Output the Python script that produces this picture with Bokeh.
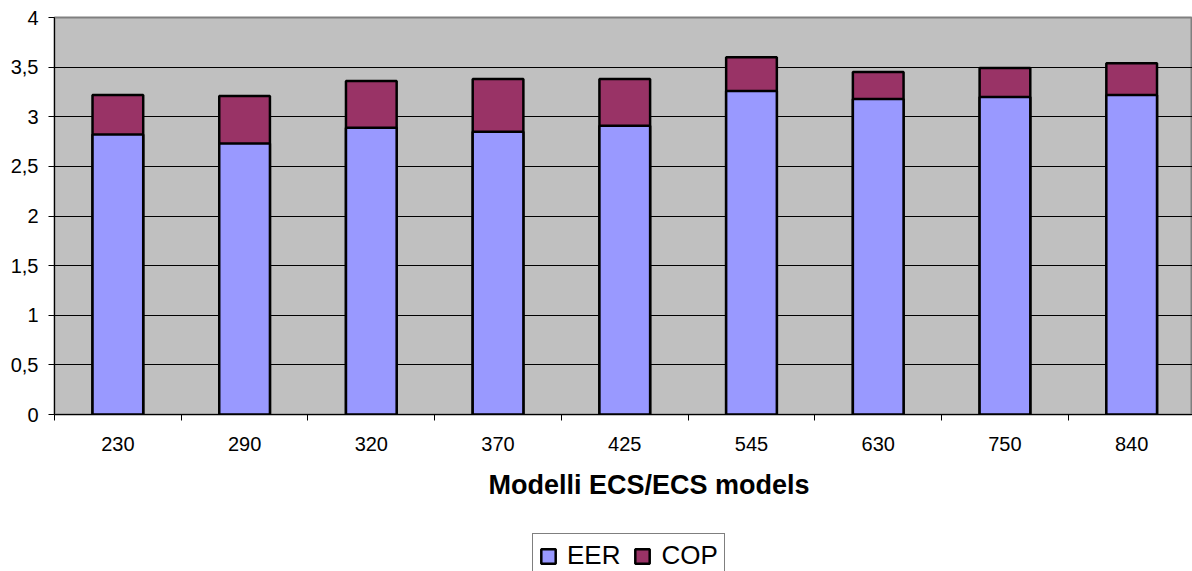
import numpy as np
from bokeh.plotting import figure
from bokeh.layouts import column
from bokeh.models import (Range1d, FixedTicker, CustomJSTickFormatter, Legend,
                          LegendItem, Title, ColumnDataSource)
from bokeh.embed import file_html
from bokeh.resources import INLINE

# ---- data ----
models = ["230", "290", "320", "370", "425", "545", "630", "750", "840"]
eer = [2.82, 2.73, 2.89, 2.85, 2.91, 3.26, 3.18, 3.20, 3.22]
cop = [3.22, 3.21, 3.36, 3.38, 3.38, 3.60, 3.45, 3.49, 3.54]
y_ticks = [0, 0.5, 1, 1.5, 2, 2.5, 3, 3.5, 4]
x_title = "Modelli ECS/ECS models"
series = ["EER", "COP"]
colors = ["#9999FF", "#993366"]

FONT = "Liberation Sans"
pos = [i + 0.5 for i in range(len(models))]
src = ColumnDataSource(dict(x=pos, eer=eer, cop=cop, model=models))

W = 1192
H1, H2 = 528, 43
TOP, LEFT, FRAME_H = 17, 54, 397

p = figure(width=W, height=H1, output_backend="svg", toolbar_location=None,
           x_range=Range1d(0, 8.98), y_range=Range1d(0, 4),
           min_border_left=LEFT, min_border_top=TOP, min_border_right=0,
           min_border_bottom=H1 - TOP - FRAME_H)
p.background_fill_color = "#C0C0C0"
p.border_fill_color = "white"
p.outline_line_color = "#808080"
p.outline_line_width = 2

r_cop = p.vbar(x="x", top="cop", bottom=0, width=0.40, source=src,
               fill_color=colors[1], line_color="black", line_width=2.5)
r_eer = p.vbar(x="x", top="eer", bottom=0, width=0.40, source=src,
               fill_color=colors[0], line_color="black", line_width=2.5)

# x axis
xax = p.xaxis[0]
xax.ticker = FixedTicker(ticks=pos, minor_ticks=list(range(len(models) + 1)))
xax.formatter = CustomJSTickFormatter(args=dict(labels=models),
                                      code="return labels[Math.floor(tick)];")
xax.major_tick_line_color = None
xax.major_tick_out = 6
xax.major_tick_in = 0
xax.minor_tick_out = 6
xax.minor_tick_in = 0
xax.minor_tick_line_color = "black"
xax.axis_line_color = "black"
xax.major_label_standoff = 16
xax.major_label_text_font = FONT
xax.major_label_text_font_size = "20px"
xax.major_label_text_color = "black"

# y axis
yax = p.yaxis[0]
yax.ticker = FixedTicker(ticks=y_ticks)
yax.formatter = CustomJSTickFormatter(code="return tick.toString().replace('.', ',');")
yax.major_tick_out = 6
yax.major_tick_in = 0
yax.minor_tick_line_color = None
yax.axis_line_color = "black"
yax.major_label_standoff = 10
yax.major_label_text_font = FONT
yax.major_label_text_font_size = "20px"
yax.major_label_text_color = "black"

p.xgrid.grid_line_color = None
p.ygrid.ticker = FixedTicker(ticks=y_ticks[1:-1])
p.ygrid.grid_line_color = "black"
p.ygrid.grid_line_width = 1

t = Title(text=x_title, align="left", offset=434, text_font=FONT,
          text_font_size="27px", text_font_style="bold", text_color="black",
          standoff=28)
p.add_layout(t, "below")

# legend strip: same series (hidden renderers) used only for the legend keys
q = figure(width=W, height=H2, output_backend="svg", toolbar_location=None,
           x_range=p.x_range, y_range=Range1d(10, 11),
           x_axis_location=None, y_axis_location=None,
           min_border_left=0, min_border_top=0, min_border_right=0,
           min_border_bottom=0)
q.grid.visible = False
q.outline_line_color = None
q.background_fill_color = "white"
q.border_fill_color = "white"
q_eer = q.vbar(x="x", top="eer", bottom=0, width=0.40, source=src,
               fill_color=colors[0], line_color="black", line_width=2.5,
               visible=False)
q_cop = q.vbar(x="x", top="cop", bottom=0, width=0.40, source=src,
               fill_color=colors[1], line_color="black", line_width=2.5,
               visible=False)

legend = Legend(items=[LegendItem(label=series[0], renderers=[q_eer]),
                       LegendItem(label=series[1], renderers=[q_cop])],
                orientation="horizontal", location=(478, -7),
                label_text_font=FONT, label_text_font_size="26px",
                label_text_color="black",
                glyph_width=18, glyph_height=18, label_standoff=10, spacing=13,
                padding=6, margin=0, border_line_color="black",
                border_line_width=1, background_fill_color="white",
                background_fill_alpha=1, inactive_fill_alpha=0)
q.add_layout(legend, "center")

layout = column(p, q, spacing=0)
open("out.html", "w").write(file_html(layout, INLINE))
